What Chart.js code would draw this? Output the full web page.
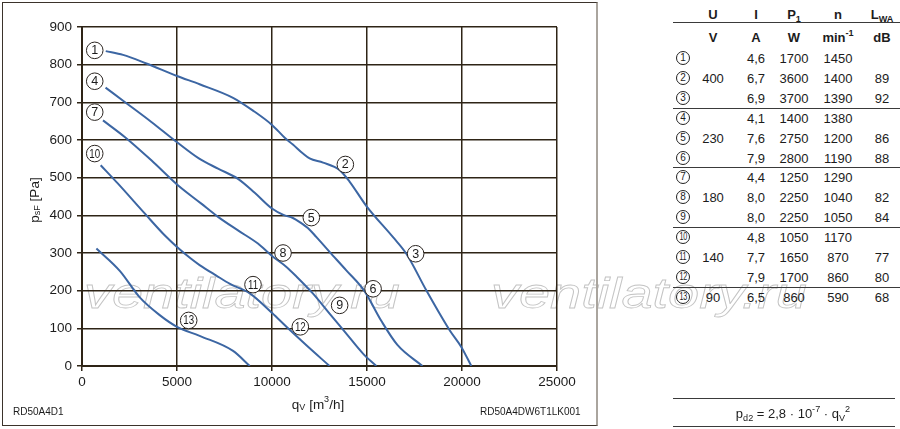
<!DOCTYPE html>
<html>
<head>
<meta charset="utf-8">
<script src="https://cdn.jsdelivr.net/npm/chart.js@4.4.1/dist/chart.umd.min.js"></script>
<style>
    body {
        margin: 0;
        width: 900px;
        height: 429px;
        background: #fff;
        overflow: hidden;
        position: relative;
        font-family: "Liberation Sans", Arial, sans-serif;
        color: #1c1c1c;
    }
    #frame {
        position: absolute;
        left: 2px;
        top: 2px;
        width: 596px;
        height: 424px;
        box-sizing: border-box;
        border: 1px solid #3b332b;
        border-right: 2px solid #aaa59e;
    }
    #chartBox {
        position: absolute;
        left: 0;
        top: 0;
        width: 600px;
        height: 429px;
    }
    .wm {
        position: absolute;
        top: 272px;
        font: italic 43px "Liberation Sans", Arial, sans-serif;
        line-height: 1;
        color: transparent;
        -webkit-text-stroke: 0.8px #c4c4c4;
        transform: scaleX(1.3);
        transform-origin: left top;
        white-space: nowrap;
    }
    .t {
        position: absolute;
        white-space: nowrap;
        transform: translate(-50%, -50%);
        font-size: 13px;
        line-height: 1;
    }
    .b { font-weight: bold; }
    .circ {
        position: absolute;
        width: 14px;
        height: 14px;
        box-sizing: border-box;
        border: 1px solid #222;
        border-radius: 50%;
        font-size: 10px;
        line-height: 12px;
        text-align: center;
        transform: translate(-50%, -50%);
        white-space: nowrap;
    }
    .circ span {
        display: inline-block;
        transform: scaleX(0.72);
        letter-spacing: -0.3px;
    }
    .hl {
        position: absolute;
        height: 0;
        border-top: 1px solid #3a3a3a;
    }
    .code {
        position: absolute;
        font-size: 10px;
        top: 406px;
    }
    sub, sup { font-size: 70%; line-height: 0; }
</style>
</head>
<body>
<div class="wm" style="left:84px">ventilatory.ru</div>
<div class="wm" style="left:491px">ventilatory.ru</div>
<div id="frame"></div>
<div id="chartBox"><canvas id="fanChart"></canvas></div>
<div class="code" style="left:13px">RD50A4D1</div>
<div class="code" style="left:480px">RD50A4DW6T1LK001</div>
<div id="table"></div>

<script>
// Fan curves: static pressure psF [Pa] over air flow qV [m3/h]
const xTicks = [0, 5000, 10000, 15000, 20000, 25000];
const yTicks = [0, 100, 200, 300, 400, 500, 600, 700, 800, 900];

// curve 1-2-3 (400 V)
const curve1Flow = [1250, 2160, 3390, 5000, 6190, 7950, 9000, 10000, 10670, 11100, 11630, 11980, 12690, 13560, 14090, 14980, 16370, 17070, 18120, 19350, 19970, 20490];
const curve1Press = [836, 826, 803, 770, 748, 712, 678, 640, 606, 588, 564, 551, 540, 520, 489, 424, 342, 298, 201, 95, 50, 0];
// curve 4-5-6 (230 V)
const curve2Flow = [1240, 2250, 3650, 5000, 6150, 7160, 8210, 9090, 10000, 10600, 11100, 11460, 11980, 12340, 13030, 13910, 14850, 15750, 16600, 17920];
const curve2Press = [739, 701, 648, 594, 551, 524, 497, 460, 418, 401, 393, 382, 362, 342, 303, 254, 200, 120, 56, 0];
// curve 7-8-9 (180 V)
const curve3Flow = [1105, 2250, 3650, 5000, 6280, 7160, 8210, 9260, 10000, 10760, 11280, 12160, 13030, 13910, 14790, 15490];
const curve3Press = [652, 608, 546, 482, 431, 396, 360, 325, 292, 263, 238, 192, 139, 86, 33, 0];
// curve 10-11-12 (140 V)
const curve4Flow = [984, 1895, 3300, 4350, 5000, 5760, 6190, 7070, 7790, 8830, 10020, 10760, 11810, 13030];
const curve4Press = [533, 484, 405, 347, 316, 284, 268, 240, 218, 193, 140, 104, 55, 0];
// curve 13 (90 V)
const curve5Flow = [758, 2000, 3040, 4090, 5000, 6190, 7950, 8830];
const curve5Press = [312, 252, 182, 135, 104, 80, 40, 0];

// circled operating point labels
const labelNames = ['1', '2', '3', '4', '5', '6', '7', '8', '9', '10', '11', '12', '13'];
const labelFlow = [670, 13860, 17560, 670, 12070, 15320, 670, 10580, 13560, 670, 9000, 11490, 5615];
const labelPress = [838, 535, 298, 756, 394, 205, 674, 300, 161, 564, 216, 104, 121];

// table on the right
const tableU = ['', '400', '', '', '230', '', '', '180', '', '', '140', '', '90'];
const tableI = ['4,6', '6,7', '6,9', '4,1', '7,6', '7,9', '4,4', '8,0', '8,0', '4,8', '7,7', '7,9', '6,5'];
const tableP = ['1700', '3600', '3700', '1400', '2750', '2800', '1250', '2250', '2250', '1050', '1650', '1700', '860'];
const tableN = ['1450', '1400', '1390', '1380', '1200', '1190', '1290', '1040', '1050', '1170', '870', '860', '590'];
const tableL = ['', '89', '92', '', '86', '88', '', '82', '84', '', '77', '80', '68'];

const LINE_COLOR = '#3c66a3';
const GRID_COLOR = '#2e2416';
const FONT = '"Liberation Sans", Arial, sans-serif';

function toPoints(flow, press) {
    return flow.map((q, i) => ({ x: q, y: press[i] }));
}

function makeDataset(flow, press) {
    return {
        data: toPoints(flow, press),
        borderColor: LINE_COLOR,
        borderWidth: 2,
        pointRadius: 0,
        fill: false,
        cubicInterpolationMode: 'monotone'
    };
}

// draw a run of text pieces, some of them sub/superscript
function drawParts(ctx, parts, cx, cy) {
    let total = 0;
    parts.forEach(p => {
        ctx.font = `${p.size}px ${FONT}`;
        p.w = ctx.measureText(p.t).width;
        total += p.w;
    });
    let x = cx - total / 2;
    parts.forEach(p => {
        ctx.font = `${p.size}px ${FONT}`;
        ctx.fillText(p.t, x, cy + (p.dy || 0));
        x += p.w;
    });
}

const axisTitles = {
    id: 'axisTitles',
    afterDraw(chart) {
        const ctx = chart.ctx;
        ctx.save();
        ctx.fillStyle = '#1c1c1c';
        ctx.textBaseline = 'middle';
        ctx.textAlign = 'left';
        drawParts(ctx, [
            { t: 'q', size: 13.5 },
            { t: 'V', size: 9, dy: 3 },
            { t: ' [m', size: 13.5 },
            { t: '3', size: 9, dy: -5 },
            { t: '/h]', size: 13.5 }
        ], 318, 405);
        ctx.translate(35, 200);
        ctx.rotate(-Math.PI / 2);
        drawParts(ctx, [
            { t: 'p', size: 13.5 },
            { t: 'sF', size: 9, dy: 3 },
            { t: ' [Pa]', size: 13.5 }
        ], 0, 0);
        ctx.restore();
    }
};

const curveLabels = {
    id: 'curveLabels',
    afterDatasetsDraw(chart) {
        const { ctx, scales } = chart;
        ctx.save();
        labelNames.forEach((name, i) => {
            const px = scales.x.getPixelForValue(labelFlow[i]);
            const py = scales.y.getPixelForValue(labelPress[i]);
            ctx.beginPath();
            ctx.arc(px, py, 8.3, 0, Math.PI * 2);
            ctx.fillStyle = '#fff';
            ctx.fill();
            ctx.lineWidth = 1;
            ctx.strokeStyle = '#2a2420';
            ctx.stroke();
            ctx.fillStyle = '#1c1c1c';
            ctx.textAlign = 'center';
            ctx.textBaseline = 'middle';
            ctx.font = `12.5px ${FONT}`;
            if (name.length > 1) {
                ctx.save();
                ctx.translate(px, py + 0.5);
                ctx.scale(0.78, 1);
                ctx.fillText(name, 0, 0);
                ctx.restore();
            } else {
                ctx.fillText(name, px, py + 0.5);
            }
        });
        ctx.restore();
    }
};

function initializeFanChart() {
    const ctx = document.getElementById('fanChart').getContext('2d');
    new Chart(ctx, {
        type: 'line',
        data: {
            datasets: [
                makeDataset(curve1Flow, curve1Press),
                makeDataset(curve2Flow, curve2Press),
                makeDataset(curve3Flow, curve3Press),
                makeDataset(curve4Flow, curve4Press),
                makeDataset(curve5Flow, curve5Press)
            ]
        },
        options: {
            responsive: true,
            maintainAspectRatio: false,
            animation: false,
            layout: {
                padding: { top: 27, right: 43, left: 0, bottom: 0 }
            },
            plugins: {
                legend: { display: false },
                tooltip: { enabled: false }
            },
            scales: {
                x: {
                    type: 'linear',
                    min: 0,
                    max: 25000,
                    afterFit: scale => { scale.height = 63; },
                    afterBuildTicks: scale => { scale.ticks = xTicks.map(v => ({ value: v })); },
                    ticks: {
                        padding: 3,
                        color: '#1c1c1c',
                        font: { family: FONT, size: 13.5 },
                        maxRotation: 0,
                        callback: value => String(value)
                    },
                    grid: {
                        color: GRID_COLOR,
                        lineWidth: 1.5,
                        tickLength: 5
                    },
                    border: { color: GRID_COLOR, width: 2 }
                },
                y: {
                    min: 0,
                    max: 900,
                    afterFit: scale => { scale.width = 82; },
                    afterBuildTicks: scale => { scale.ticks = yTicks.map(v => ({ value: v })); },
                    ticks: {
                        padding: 5,
                        color: '#1c1c1c',
                        font: { family: FONT, size: 13.5 },
                        callback: value => String(value)
                    },
                    grid: {
                        color: GRID_COLOR,
                        lineWidth: 1.5,
                        tickLength: 5
                    },
                    border: { color: GRID_COLOR, width: 2 }
                }
            }
        },
        plugins: [curveLabels, axisTitles]
    });
}

function addText(html, cx, cy, cls) {
    const el = document.createElement('div');
    el.className = 't' + (cls ? ' ' + cls : '');
    el.style.left = cx + 'px';
    el.style.top = cy + 'px';
    el.innerHTML = html;
    document.getElementById('table').appendChild(el);
}

function addLine(x1, x2, y) {
    const el = document.createElement('div');
    el.className = 'hl';
    el.style.left = x1 + 'px';
    el.style.width = (x2 - x1) + 'px';
    el.style.top = y + 'px';
    document.getElementById('table').appendChild(el);
}

function buildTable() {
    const cols = [713, 756, 794, 838, 882];
    const heads = ['U', 'I', 'P<sub>1</sub>', 'n', 'L<sub>WA</sub>'];
    const units = ['V', 'A', 'W', 'min<sup>-1</sup>', 'dB'];
    heads.forEach((h, i) => addText(h, cols[i], 14, 'b'));
    units.forEach((u, i) => addText(u, cols[i], 37, 'b'));
    addLine(673, 900, 22);

    const rowPitch = 19.9;
    labelNames.forEach((name, r) => {
        const y = 58 + r * rowPitch;
        const c = document.createElement('div');
        c.className = 'circ';
        c.style.left = '683px';
        c.style.top = y + 'px';
        if (name.length > 1) {
            const s = document.createElement('span');
            s.textContent = name;
            c.appendChild(s);
        } else {
            c.textContent = name;
        }
        document.getElementById('table').appendChild(c);
        [tableU[r], tableI[r], tableP[r], tableN[r], tableL[r]].forEach((v, i) => {
            if (v) addText(v, cols[i], y);
        });
        if (r === 2 || r === 5 || r === 8 || r === 11) {
            addLine(673, 900, Math.round(y + rowPitch / 2));
        }
    });

    addLine(673, 895, 398);
    addText('p<sub>d2</sub> = 2,8 · 10<sup>-7</sup> · q<sub>V</sub><sup>2</sup>', 793, 413);
    addLine(673, 895, 426);
}

initializeFanChart();
buildTable();
</script>
</body>
</html>
